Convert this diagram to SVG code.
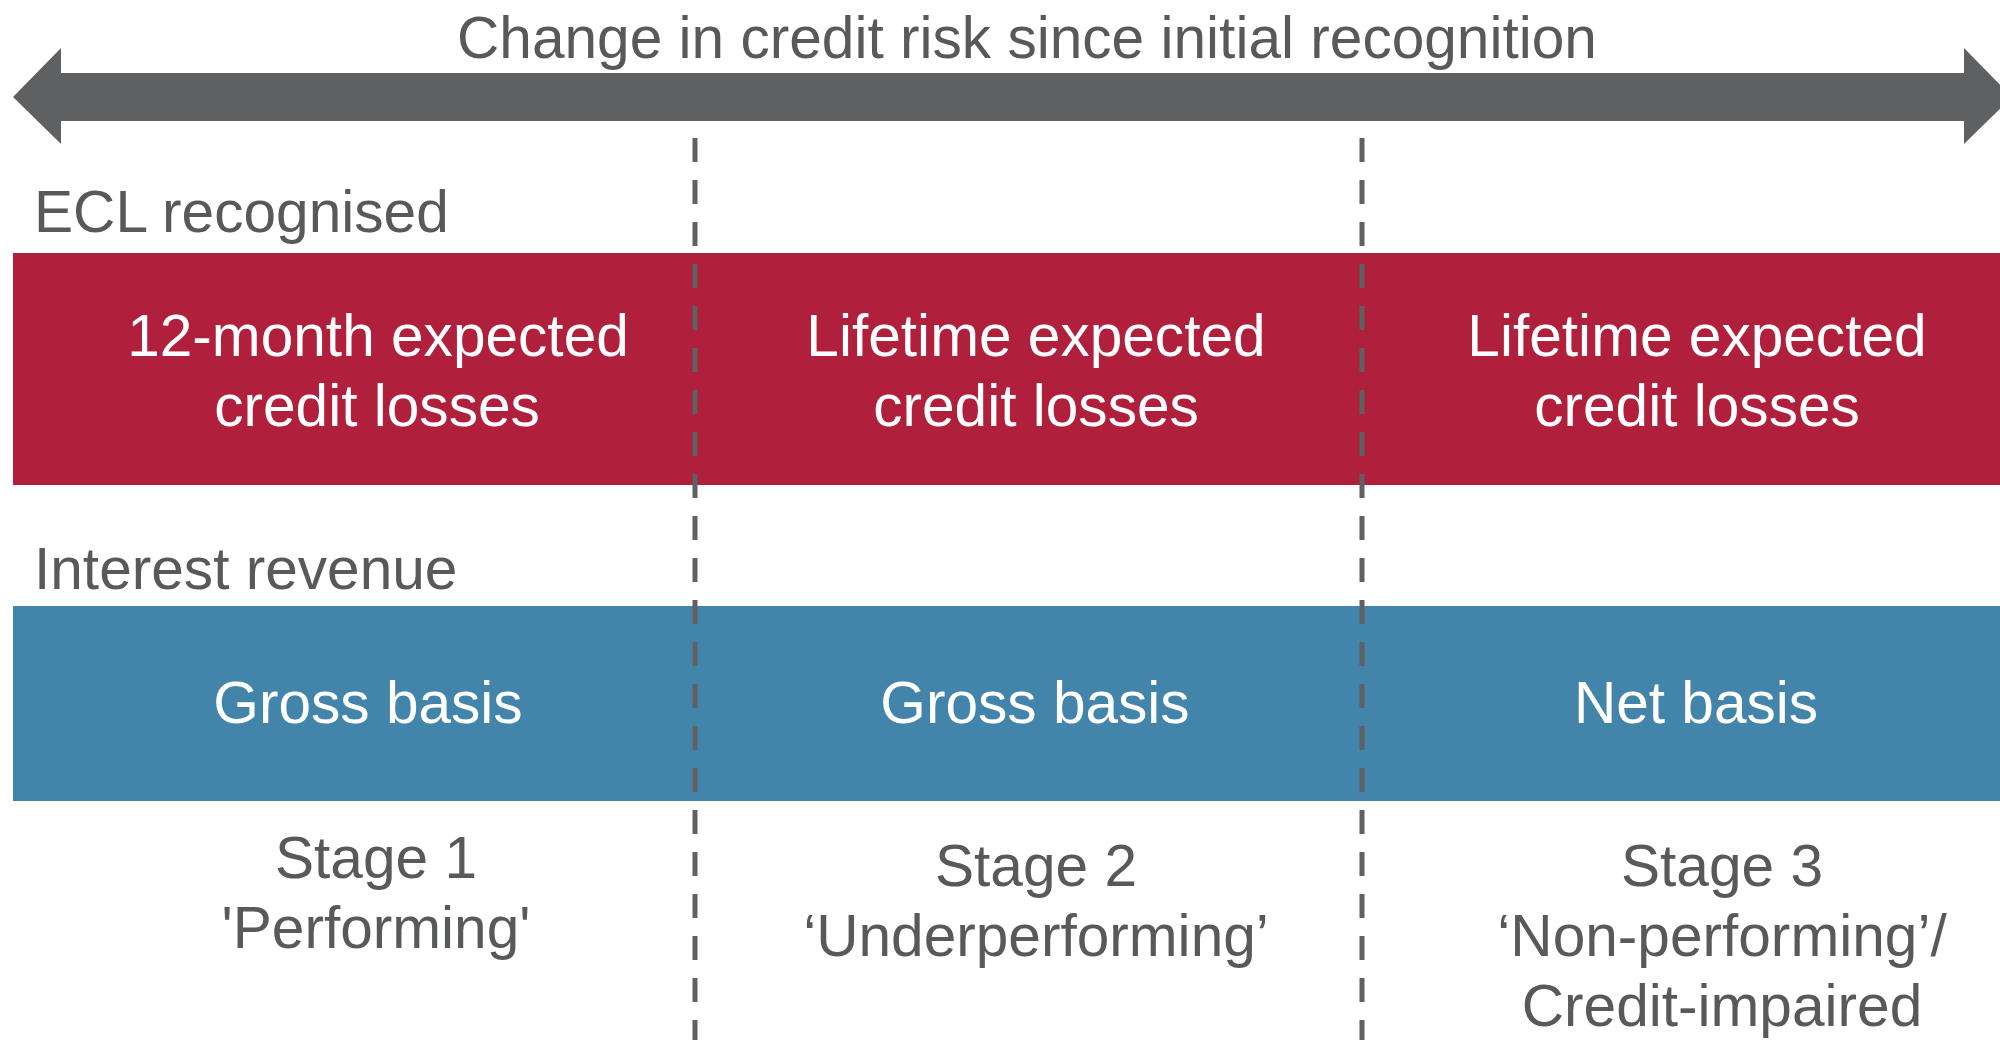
<svg xmlns="http://www.w3.org/2000/svg" width="2000" height="1040" viewBox="0 0 2000 1040">
<style>
.t{font-family:"Liberation Sans",Arial,sans-serif;font-size:58.6px;fill:#58595b}
.w{font-family:"Liberation Sans",Arial,sans-serif;font-size:58.6px;fill:#ffffff;text-anchor:middle}
.c{text-anchor:middle}
.dash{stroke:#5f6062;stroke-width:5;stroke-dasharray:24 18;fill:none}
</style>
<rect width="2000" height="1040" fill="#ffffff"/>
<g id="axis">
<polygon points="13,97 61,48 61,73 1964,73 1964,48 2012,97 1964,144 1964,121 61,121 61,144" fill="#5f6062"/>
<text class="t c" x="1027" y="58">Change in credit risk since initial recognition</text>
</g>
<g id="labels">
<text class="t" x="34" y="232">ECL recognised</text>
<text class="t" x="34" y="589">Interest revenue</text>
</g>
<g id="ecl-band">
<rect x="13" y="253" width="1987" height="232" fill="#b01f3b"/>
</g>
<g id="interest-band">
<rect x="13" y="606" width="1987" height="195" fill="#4284aa"/>
</g>
<g id="ecl-stage1"><text class="w" x="378" y="356">12-month expected</text><text class="w" x="377" y="426">credit losses</text></g>
<g id="ecl-stage2"><text class="w" x="1036" y="356">Lifetime expected</text><text class="w" x="1036" y="426">credit losses</text></g>
<g id="ecl-stage3"><text class="w" x="1697" y="356">Lifetime expected</text><text class="w" x="1697" y="426">credit losses</text></g>
<g id="int-stage1"><text class="w" x="368" y="723">Gross basis</text></g>
<g id="int-stage2"><text class="w" x="1035" y="723">Gross basis</text></g>
<g id="int-stage3"><text class="w" x="1696" y="723">Net basis</text></g>
<g id="stage1"><text class="t c" x="376" y="878">Stage 1</text><text class="t c" x="376" y="948">'Performing'</text></g>
<g id="stage2"><text class="t c" x="1036" y="886">Stage 2</text><text class="t c" x="1036" y="956">‘Underperforming’</text></g>
<g id="stage3"><text class="t c" x="1722" y="886">Stage 3</text><text class="t c" x="1722" y="956">‘Non-performing’/</text><text class="t c" x="1722" y="1026">Credit-impaired</text></g>
<g id="connectors">
<line class="dash" x1="695" y1="138" x2="695" y2="1040"/>
<line class="dash" x1="1362" y1="138" x2="1362" y2="1040"/>
</g>
</svg>
